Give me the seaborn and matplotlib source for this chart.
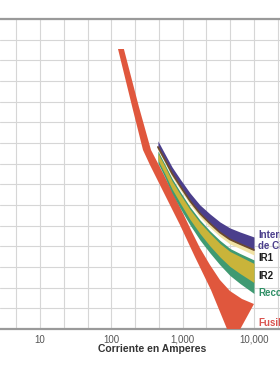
import matplotlib
matplotlib.use("Agg")
import matplotlib.pyplot as plt
from matplotlib.ticker import FixedLocator, NullFormatter, NullLocator
import pandas as pd
import seaborn as sns

# corriente en amperes comun a las bandas superiores
amps = [450, 565, 710, 920, 1270, 1750, 2420, 3340, 4610, 6370, 10000]

# tiempos (s) de cada borde de banda
interruptor_sup = [10.8, 6.65, 4.10, 2.63, 1.56, 1.0, 0.716, 0.532, 0.426, 0.367, 0.305]
interruptor_inf = [8.62, 5.32, 3.22, 2.03, 1.16, 0.729, 0.503, 0.360, 0.278, 0.235, 0.188]
ir1_inf = [7.71, 4.76, 2.83, 1.78, 1.02, 0.640, 0.434, 0.310, 0.235, 0.199, 0.156]
reco_sup = [7.43, 4.50, 2.68, 1.65, 0.929, 0.573, 0.381, 0.268, 0.199, 0.165, 0.130]
ir2_sup = [6.90, 4.18, 2.44, 1.50, 0.846, 0.522, 0.347, 0.239, 0.178, 0.148, 0.114]
ir2_inf = [5.32, 3.16, 1.81, 1.08, 0.584, 0.347, 0.218, 0.145, 0.102, 0.0785, 0.0562]
reco_inf = [4.76, 2.78, 1.56, 0.895, 0.476, 0.272, 0.168, 0.108, 0.0729, 0.0542, 0.0374]

# fusible: curva de fusion minima y de despeje total
fus_min_amps = [124, 201, 278, 348, 565, 918, 1489, 2496, 4190, 5200]
fus_min_t = [328, 34.1, 7.71, 4.42, 1.45, 0.476, 0.145, 0.0426, 0.01, 0.0064]
fus_tot_amps = [150, 244, 360, 530, 861, 1352, 1750, 2416, 3336, 4610, 6792, 10000]
fus_tot_t = [328, 38.1, 7.71, 3.28, 1.08, 0.367, 0.202, 0.108, 0.0617, 0.041, 0.0305, 0.0253]

etiquetas = ["Interruptor\nde Circuito", "IR1", "IR2", "Reconectador", "Fusible"]
etiqueta_t = [0.27, 0.140, 0.0716, 0.038, 0.0127]
etiqueta_col = ["#4b3f8c", "#1e1e1e", "#1e1e1e", "#2f8f66", "#d9534f"]

x_ticks = [10, 100, 1000, 10000]
x_labels = ["10", "100", "1,000", "10,000"]

sns.set_style("whitegrid")
plt.rcParams['font.family'] = ['Liberation Sans', 'DejaVu Sans']

fig = plt.figure(figsize=(2.8, 3.76), dpi=100)
ax = fig.add_axes([0, 0.125, 1, 0.8245])
ax.set_xscale("log")
ax.set_yscale("log")
ax.set_xlim(10 ** 0.439, 10 ** 4.365)
ax.set_ylim(0.01, 1000)

# fusible
ax.fill(fus_min_amps + fus_tot_amps[::-1], fus_min_t + fus_tot_t[::-1],
        color="#e0573d", lw=0, zorder=3)

# bandas
ax.fill_between(amps, reco_sup, reco_inf, color="#3f9a72", lw=0, zorder=3)
ax.fill_between(amps, ir2_sup, ir2_inf, color="#c9b43a", lw=0, zorder=4)
ax.fill_between(amps, interruptor_inf, ir1_inf, color="#f1e2a4", lw=0, zorder=4)
ax.fill_between(amps, interruptor_sup, interruptor_inf, color="#4b3f8c", lw=0, zorder=4)
df = pd.DataFrame({"amps": amps, "t": interruptor_inf})
sns.lineplot(data=df, x="amps", y="t", color="#6b4a2e", lw=1.3, ax=ax, zorder=5)

ax.xaxis.set_major_locator(FixedLocator(x_ticks))
ax.set_xticklabels(x_labels)
ax.xaxis.set_minor_locator(FixedLocator([10 ** (k / 3) for k in range(0, 15)]))
ax.xaxis.set_minor_formatter(NullFormatter())
ax.yaxis.set_major_locator(FixedLocator([10 ** (k / 3) for k in range(-6, 10)]))
ax.yaxis.set_minor_locator(NullLocator())
ax.yaxis.set_major_formatter(NullFormatter())
ax.grid(which="both", color="#d6d6d6", lw=0.8)
ax.tick_params(which="both", length=0, labelsize=7, labelcolor="#555555", pad=4)
ax.set_xlabel("")
ax.set_ylabel("")

for s in ["left", "right"]:
    ax.spines[s].set_visible(False)
for s in ["top", "bottom"]:
    ax.spines[s].set_color("#9a9a9a")
    ax.spines[s].set_linewidth(1.6)

for txt, t, c in zip(etiquetas, etiqueta_t, etiqueta_col):
    ax.text(11400, t, txt, color=c, fontsize=7, fontweight="bold",
            ha="left", va="center", linespacing=1.15, zorder=6)

fig.text(0.543, 0.072, "Corriente en Amperes", ha="center", va="center",
         fontsize=7.5, fontweight="bold", color="#333333")

fig.savefig("out.png", dpi=100)
